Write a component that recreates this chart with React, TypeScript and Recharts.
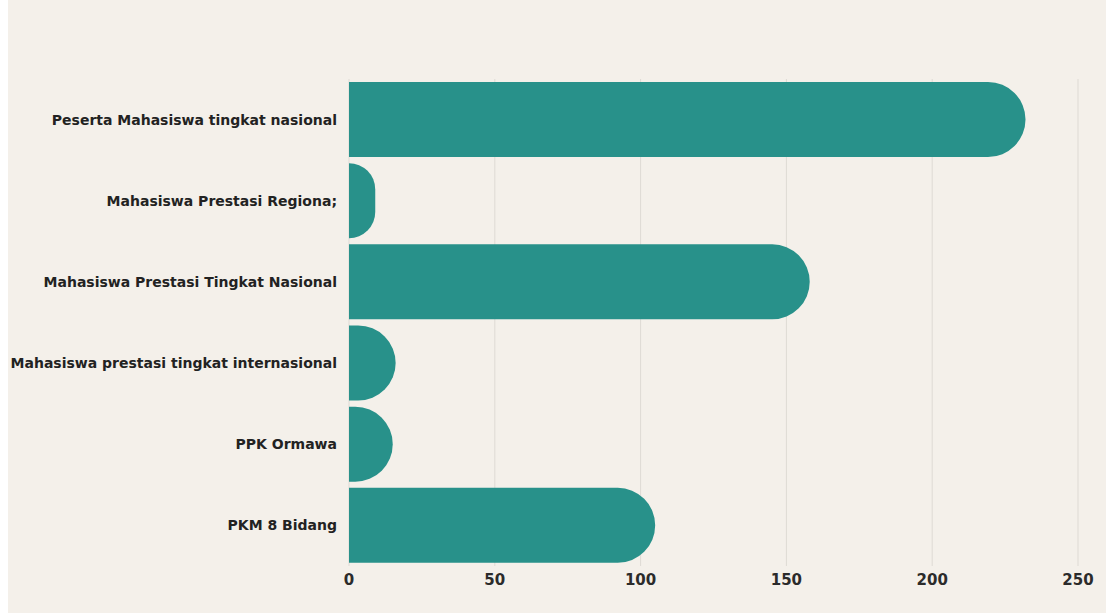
import { BarChart, Bar, XAxis, YAxis, CartesianGrid } from 'recharts';

const categories = [
  'Peserta Mahasiswa tingkat nasional',
  'Mahasiswa Prestasi Regiona;',
  'Mahasiswa Prestasi Tingkat Nasional',
  'Mahasiswa prestasi tingkat internasional',
  'PPK Ormawa',
  'PKM 8 Bidang',
];
const counts = [232, 9, 158, 16, 15, 105];
const xTicks = [0, 50, 100, 150, 200, 250];

const data = categories.map((name, i) => ({ name, value: counts[i] }));

const RoundBar = (props: any) => {
  const { x, y, width, height, fill } = props;
  if (!width || width <= 0) return null;
  const r = Math.min(height / 2, width);
  const d = `M${x},${y} L${x + width - r},${y} A${r},${r} 0 0 1 ${x + width},${y + r} L${x + width},${y + height - r} A${r},${r} 0 0 1 ${x + width - r},${y + height} L${x},${y + height} Z`;
  return <path d={d} fill={fill} />;
};

export default function App() {
  return (
    <div style={{ position: 'absolute', left: 8, top: 0, width: 1098, height: 613, background: '#f4f0ea' }}>
      <BarChart
        width={1098}
        height={613}
        data={data}
        layout="vertical"
        margin={{ top: 79, right: 28, left: 0, bottom: 17 }}
        barSize={75}
      >
        <CartesianGrid horizontal={false} stroke="#dedad4" />
        <XAxis
          type="number"
          domain={[0, 250]}
          ticks={xTicks}
          axisLine={false}
          tickLine={false}
          tick={{ fill: '#2b2b2b', fontSize: 15, fontWeight: 700, fontFamily: 'DejaVu Sans' }}
        />
        <YAxis
          type="category"
          dataKey="name"
          width={341}
          axisLine={false}
          tickLine={false}
          tickMargin={6}
          tick={{ fill: '#222', fontSize: 14, fontWeight: 700, fontFamily: 'DejaVu Sans' }}
        />
        <Bar dataKey="value" fill="#28918a" shape={RoundBar} isAnimationActive={false} />
      </BarChart>
    </div>
  );
}
